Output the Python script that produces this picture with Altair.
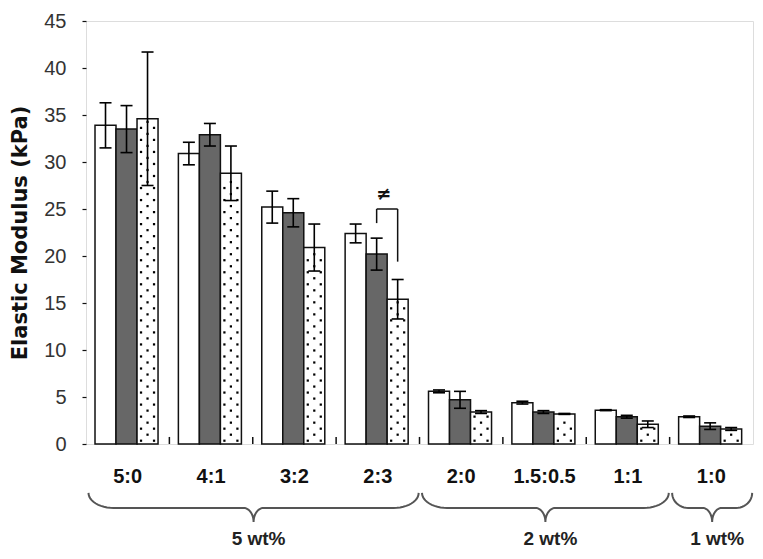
import math
import altair as alt
import pandas as pd

# ---------------- data ----------------
categories = ["5:0", "4:1", "3:2", "2:3", "2:0", "1.5:0.5", "1:1", "1:0"]
series_names = ["S1", "S2", "S3"]
s1 = [33.9, 30.9, 25.2, 22.4, 5.6, 4.4, 3.6, 2.9]
s1_err = [2.4, 1.2, 1.7, 1.0, 0.15, 0.15, 0.05, 0.08]
s2 = [33.5, 32.9, 24.6, 20.2, 4.7, 3.4, 2.9, 1.9]
s2_err = [2.5, 1.2, 1.5, 1.7, 0.9, 0.15, 0.15, 0.35]
s3 = [34.6, 28.8, 20.9, 15.4, 3.4, 3.2, 2.1, 1.6]
s3_err = [7.1, 2.9, 2.5, 2.1, 0.15, 0.05, 0.35, 0.15]

group_names = ["5 wt%", "2 wt%", "1 wt%"]
group_first = [0, 4, 7]
group_last = [3, 6, 7]

sig_category = "2:3"
sig_pair = (1, 2)          # series indices compared
sig_top = 25.0
sig_leg_ends = (23.5, 19.4)
sig_symbol = "≠"

y_ticks = [0, 5, 10, 15, 20, 25, 30, 35, 40, 45]

# ---------------- layout helpers ----------------
W, H = 667, 423
XD, YD = [0, len(categories)], [0, 45]
bar_w = 0.252
first_off = 0.108
cap_half = 0.072

xs = alt.Scale(domain=XD, nice=False, zero=False)
ys = alt.Scale(domain=YD, nice=False, zero=False)
y_axis = alt.Axis(values=y_ticks, grid=False, domain=False,
                  tickSize=4, tickColor="#111", tickWidth=1.2,
                  labelFont="Liberation Sans", labelFontSize=20,
                  labelColor="#333", labelPadding=16,
                  title="Elastic Modulus (kPa)",
                  titleFont="DejaVu Sans", titleFontSize=21,
                  titleFontWeight="bold", titleColor="#111",
                  titleX=-66, titleY=H / 2, titleAngle=-90,
                  titleBaseline="middle", titleAlign="center")


def X(f, **kw):
    return alt.X(f, type="quantitative", scale=xs, axis=None, **kw)


def Y(f, **kw):
    return alt.Y(f, type="quantitative", scale=ys, axis=y_axis, **kw)


vals = [s1, s2, s3]
errs = [s1_err, s2_err, s3_err]
rows, caps, dots = [], [], []
for g, cat in enumerate(categories):
    for s in range(3):
        x0 = g + first_off + s * bar_w
        x1 = x0 + bar_w
        cx = (x0 + x1) / 2
        v, e = vals[s][g], errs[s][g]
        rows.append(dict(cat=cat, series=series_names[s], x0=x0, x1=x1, cx=cx,
                         v=v, base=0, lo=v - e, hi=v + e))
        caps.append(dict(a=cx - cap_half, b=cx + cap_half, y=v - e))
        caps.append(dict(a=cx - cap_half, b=cx + cap_half, y=v + e))
        if s == 2:
            j = 0
            yy = 0.35
            while yy < v - 0.3:
                if j % 2 == 0:
                    dots.append(dict(x=cx - 0.078, y=yy))
                    dots.append(dict(x=cx + 0.078, y=yy))
                else:
                    dots.append(dict(x=cx, y=yy))
                j += 1
                yy += 0.64
bars = pd.DataFrame(rows)
caps = pd.DataFrame(caps)
dots = pd.DataFrame(dots)

bar_layer = alt.Chart(bars).mark_rect(stroke="#111", strokeWidth=1.5).encode(
    x=X("x0"), x2="x1",
    y=Y("v"), y2="base",
    fill=alt.Fill("series:N", scale=alt.Scale(domain=series_names,
                                              range=["#ffffff", "#676767", "#ffffff"]),
                  legend=None),
)

dot_layer = alt.Chart(dots).mark_square(size=5, color="#000", opacity=1).encode(
    x=X("x"), y=Y("y"))

err_layer = alt.Chart(bars).mark_rule(color="#000", strokeWidth=1.6).encode(
    x=X("cx"), y=Y("lo"), y2="hi")
cap_layer = alt.Chart(caps).mark_rule(color="#000", strokeWidth=1.6).encode(
    x=X("a"), x2="b", y=Y("y"))

tick_df = pd.DataFrame(dict(x=list(range(1, len(categories))), y0=0, y1=0.75))
tick_layer = alt.Chart(tick_df).mark_rule(color="#111", strokeWidth=1.5).encode(
    x=X("x"), y=Y("y0"), y2="y1")

# significance bracket
gi = categories.index(sig_category)
ca = gi + first_off + sig_pair[0] * bar_w + bar_w / 2
cb = gi + first_off + sig_pair[1] * bar_w + bar_w / 2
br = pd.DataFrame([
    dict(x=ca, x2=cb, y=sig_top, y2=sig_top),
    dict(x=ca, x2=ca, y=sig_top, y2=sig_leg_ends[0]),
    dict(x=cb, x2=cb, y=sig_top, y2=sig_leg_ends[1]),
])
br_layer = alt.Chart(br).mark_rule(color="#111", strokeWidth=1.5).encode(
    x=X("x"), x2="x2", y=Y("y"), y2="y2")
sym_layer = alt.Chart(pd.DataFrame([dict(x=(ca + cb) / 2 - 0.04, y=sig_top + 1.5, t=sig_symbol)])).mark_text(
    font="DejaVu Sans", fontSize=18, fontWeight="bold", color="#111", baseline="middle"
).encode(x=X("x"), y=Y("y"), text="t:N")

# category labels below axis
cat_df = pd.DataFrame(dict(x=[i + 0.5 for i in range(len(categories))], y=-3.5, t=categories))
cat_layer = alt.Chart(cat_df).mark_text(
    font="Liberation Sans", fontSize=20, fontWeight="bold", color="#111", baseline="middle"
).encode(x=X("x"), y=Y("y"), text="t:N")

# braces
px_x = W / len(categories)
y_top, y_line, y_tip = -5.2, -6.8, -8.3
pts = []
for name, a, b in zip(group_names, group_first, group_last):
    xa, xb = a + 0.03, b + 1 - 0.01
    xm = (xa + xb) / 2
    rh = min(25 / px_x, (xb - xa) * 0.2)
    rt = min(10 / px_x, (xb - xa) * 0.12)
    seq = []
    n = 12
    for k in range(n + 1):
        t = k / n * math.pi / 2
        seq.append((xa + rh * (1 - math.cos(t)), y_top + (y_line - y_top) * math.sin(t)))
    for k in range(n + 1):
        t = k / n * math.pi / 2
        seq.append((xm - rt + rt * math.sin(t), y_line + (y_tip - y_line) * (1 - math.cos(t))))
    for k in range(n + 1):
        t = k / n * math.pi / 2
        seq.append((xm + rt - rt * math.cos(t), y_line + (y_tip - y_line) * (1 - math.sin(t))))
    for k in range(n + 1):
        t = k / n * math.pi / 2
        seq.append((xb - rh + rh * math.sin(t), y_line + (y_top - y_line) * (1 - math.cos(t))))
    for i, (px, py) in enumerate(seq):
        pts.append(dict(g=name, i=i, x=px, y=py))
brace_df = pd.DataFrame(pts)
brace_layer = alt.Chart(brace_df).mark_line(color="#555", strokeWidth=2).encode(
    x=X("x"), y=Y("y"), detail="g:N", order="i:Q")

glabel_df = pd.DataFrame(dict(
    x=[(a + b + 1) / 2 + 0.07 for a, b in zip(group_first, group_last)],
    y=-10.1, t=group_names))
glabel_layer = alt.Chart(glabel_df).mark_text(
    font="Liberation Sans", fontSize=19, fontWeight="bold", color="#222", baseline="middle"
).encode(x=X("x"), y=Y("y"), text="t:N")

chart = alt.layer(
    bar_layer, dot_layer, err_layer, cap_layer, tick_layer, br_layer, sym_layer,
    cat_layer, brace_layer, glabel_layer,
).properties(
    width=W, height=H,
    padding={"left": 78, "top": 13, "right": 2, "bottom": 107},
    autosize=alt.AutoSizeParams(type="none"),
).configure_view(stroke="#222", strokeWidth=1.6).configure(background="white")

chart.save("out.html", embed_options={"renderer": "svg", "actions": False})
